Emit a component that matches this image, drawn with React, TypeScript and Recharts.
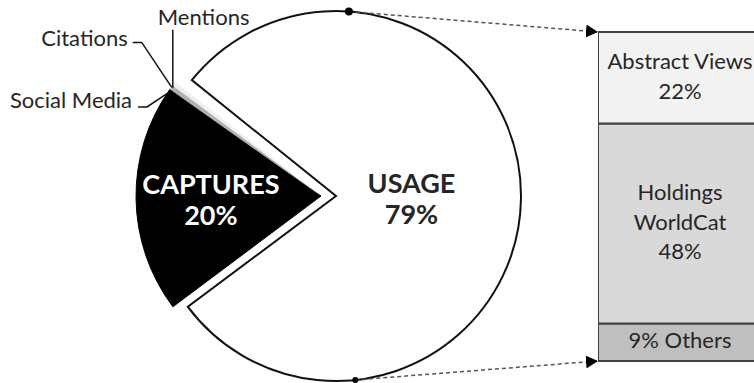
import { PieChart, Pie, Cell, BarChart, Bar, XAxis, YAxis, LabelList } from "recharts"

// pie of the whole, left group is pulled out to the left
const pieNames = ["CAPTURES", "USAGE", "Mentions", "Citations", "Social Media"]
const pieValues = [20, 79, 0.2, 0.4, 0.4]

// USAGE broken down in the stacked column (bottom to top)
const usageKeys = ["Others", "Holdings", "Abstract"]
const usageValues = [9, 48, 22]
const usageLabels = [["9% Others"], ["Holdings", "WorldCat", "48%"], ["Abstract Views", "22%"]]

const W = 754
const H = 383
const FONT = "Lato, 'Open Sans', sans-serif"
const TXT = "#262626"
const RAD = Math.PI / 180

const CY = 196
const R = 185
const USAGE_CX = 336
const LEFT_CX = 321
const START = 144.8

const BAR_LEFT = 598
const BAR_W = 164
const BAR_TOP = 32
const BAR_BOTTOM = 361

const pieData = pieNames.map((name, i) => ({ name, value: pieValues[i] }))
const barData = [
  usageKeys.reduce((row, k, i) => ({ ...row, [k]: usageValues[i] }), { name: "USAGE" } as Record<string, any>),
]
const barFills: Record<string, string> = { Others: "#bfbfbf", Holdings: "#d9d9d9", Abstract: "#f2f2f2" }
const leftFills: Record<string, string> = {
  CAPTURES: "#000000",
  "Social Media": "#b0b0b0",
  Citations: "#f0f0f0",
  Mentions: "#ffffff",
}

const polar = (cx: number, cy: number, r: number, a: number) => ({
  x: cx + r * Math.cos(-a * RAD),
  y: cy + r * Math.sin(-a * RAD),
})

function BigLabel({ cx, cy, midAngle, outerRadius, ratio, lines, color }: any) {
  const p = polar(cx, cy, outerRadius * ratio, midAngle)
  return (
    <text x={p.x} y={p.y - 4} textAnchor="middle" fill={color} fontFamily={FONT} fontWeight={700} fontSize={27}>
      <tspan x={p.x} dy={0}>{lines[0]}</tspan>
      <tspan x={p.x} dy={31}>{lines[1]}</tspan>
    </text>
  )
}

const renderUsageLabel = (props: any) => {
  const name = props.payload?.name ?? props.name
  if (name !== "USAGE") return null
  return <BigLabel {...props} ratio={0.408} lines={["USAGE", `${props.value}%`]} color={TXT} />
}

const renderLeftLabel = (props: any) => {
  const name = props.payload?.name ?? props.name
  if (name === "USAGE") return null
  if (name === "CAPTURES")
    return <BigLabel {...props} ratio={0.595} lines={["CAPTURES", `${props.value}%`]} color="#ffffff" />
  const a = polar(props.cx, props.cy, props.outerRadius - 6, props.midAngle)
  const lineProps = { fill: "none", stroke: "#111", strokeWidth: 1.5 }
  const textProps = { fill: TXT, fontFamily: FONT, fontSize: 22 }
  if (name === "Mentions")
    return (
      <g>
        <polyline points={`${a.x - 8},${a.y + 3} ${a.x - 8},${a.y - 55}`} {...lineProps} />
        <text x={a.x - 23} y={a.y - 60} textAnchor="start" {...textProps}>{name}</text>
      </g>
    )
  if (name === "Citations")
    return (
      <g>
        <polyline points={`${a.x - 7},${a.y} ${a.x - 37},${a.y - 45} ${a.x - 46},${a.y - 45}`} {...lineProps} />
        <text x={a.x - 51} y={a.y - 41} textAnchor="end" {...textProps}>{name}</text>
      </g>
    )
  return (
    <g>
      <polyline points={`${a.x - 8},${a.y + 2} ${a.x - 29},${a.y + 16} ${a.x - 38},${a.y + 16}`} {...lineProps} />
      <text x={a.x - 44} y={a.y + 17} textAnchor="end" {...textProps}>{name}</text>
    </g>
  )
}

const renderBarLabel = (lines: string[]) => (props: any) => {
  const { x, y, width, height } = props
  const cx = x + width / 2
  const lh = 29.5
  const first = y + height / 2 - ((lines.length - 1) * lh) / 2 + 6
  return (
    <text x={cx} y={first} textAnchor="middle" fill={TXT} fontFamily={FONT} fontSize={22}>
      {lines.map((l, i) => (
        <tspan key={i} x={cx} dy={i === 0 ? 0 : lh}>{l}</tspan>
      ))}
    </text>
  )
}

export default function App() {
  const top = polar(USAGE_CX, CY, R, 86)
  const bottom = polar(USAGE_CX, CY, R, -84)
  return (
    <div style={{ position: "absolute", left: 0, top: 0, width: W, height: H, overflow: "hidden", background: "#fff" }}>
      <div style={{ position: "absolute", left: 0, top: 0 }}>
        <PieChart width={W} height={H} margin={{ top: 0, right: 0, bottom: 0, left: 0 }}>
          <Pie
            data={pieData}
            dataKey="value"
            nameKey="name"
            cx={USAGE_CX}
            cy={CY}
            outerRadius={R}
            startAngle={START}
            endAngle={START + 360}
            label={renderUsageLabel}
            labelLine={false}
            isAnimationActive={false}
          >
            {pieData.map((d) => (
              <Cell
                key={d.name}
                fill={d.name === "USAGE" ? "#ffffff" : "none"}
                stroke={d.name === "USAGE" ? "#111" : "none"}
                strokeWidth={2}
              />
            ))}
          </Pie>
          <Pie
            data={pieData}
            dataKey="value"
            nameKey="name"
            cx={LEFT_CX}
            cy={CY}
            outerRadius={R}
            startAngle={START}
            endAngle={START + 360}
            label={renderLeftLabel}
            labelLine={false}
            isAnimationActive={false}
          >
            {pieData.map((d) => (
              <Cell
                key={d.name}
                fill={d.name === "USAGE" ? "none" : leftFills[d.name]}
                stroke={d.name === "CAPTURES" ? "#000" : "none"}
                strokeWidth={1}
              />
            ))}
          </Pie>
        </PieChart>
      </div>
      <div style={{ position: "absolute", left: BAR_LEFT, top: 0 }}>
        <BarChart
          width={BAR_W}
          height={H}
          data={barData}
          barCategoryGap={0}
          margin={{ top: BAR_TOP, bottom: H - BAR_BOTTOM, left: 0, right: 0 }}
        >
          <XAxis dataKey="name" hide />
          <YAxis type="number" domain={[0, usageValues.reduce((s, v) => s + v, 0)]} hide />
          {usageKeys.map((k, i) => (
            <Bar key={k} dataKey={k} stackId="u" fill={barFills[k]} stroke="#404040" strokeWidth={2} isAnimationActive={false}>
              <LabelList dataKey={k} content={renderBarLabel(usageLabels[i])} />
            </Bar>
          ))}
        </BarChart>
      </div>
      <svg width={W} height={H} style={{ position: "absolute", left: 0, top: 0, pointerEvents: "none" }}>
        <defs>
          <marker id="arr" viewBox="0 0 12 13" refX={12} refY={6.5} markerWidth={12} markerHeight={13} markerUnits="userSpaceOnUse" orient="auto">
            <path d="M0,0 L12,6.5 L0,13 z" fill="#000" />
          </marker>
        </defs>
        <line x1={top.x} y1={top.y} x2={BAR_LEFT} y2={BAR_TOP} stroke="#555" strokeWidth={1.5} strokeDasharray="4 3" markerEnd="url(#arr)" />
        <line x1={bottom.x} y1={bottom.y} x2={BAR_LEFT} y2={BAR_BOTTOM} stroke="#555" strokeWidth={1.5} strokeDasharray="4 3" markerEnd="url(#arr)" />
        <circle cx={top.x} cy={top.y} r={4} fill="#000" />
        <circle cx={bottom.x} cy={bottom.y} r={3} fill="#000" />
      </svg>
    </div>
  )
}
